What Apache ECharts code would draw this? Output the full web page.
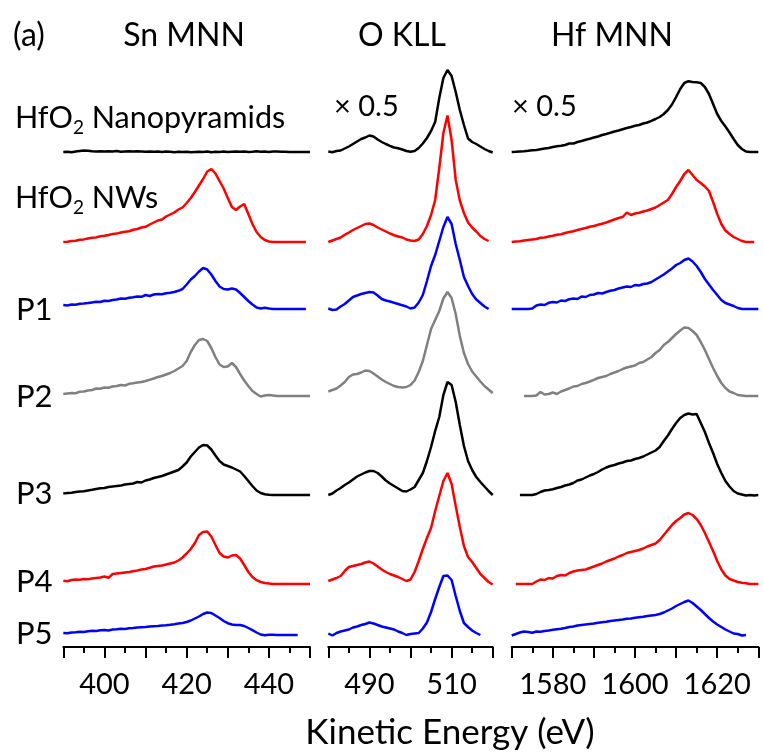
<!DOCTYPE html>
<html>
<head>
<meta charset="utf-8">
<title>Auger spectra</title>
<script src="https://cdn.jsdelivr.net/npm/echarts@6/dist/echarts.min.js"></script>
<style>
  html, body { margin: 0; padding: 0; background: #fff; }
  #chart { width: 764px; height: 753px; }
</style>
</head>
<body>
<div id="chart"></div>
<script>
// kinetic energy grids (eV)
const snEnergy = [390,391,392,393,394,395,396,397,398,399,400,401,402,403,404,405,406,407,408,409,
  410,411,412,413,414,415,416,417,418,419,420,421,422,423,424,425,426,427,428,429,
  430,431,432,433,434,435,436,437,438,439,440,441,442,443,444,445,446,447,448,449,450];
const oEnergy = [480,481,482,483,484,485,486,487,488,489,490,491,492,493,494,495,496,497,498,499,
  500,501,502,503,504,505,506,507,508,509,510,511,512,513,514,515,516,517,518,519,520];
const hfEnergy = [1570,1571,1572,1573,1574,1575,1576,1577,1578,1579,1580,1581,1582,1583,1584,1585,1586,1587,1588,1589,
  1590,1591,1592,1593,1594,1595,1596,1597,1598,1599,1600,1601,1602,1603,1604,1605,1606,1607,1608,1609,
  1610,1611,1612,1613,1614,1615,1616,1617,1618,1619,1620,1621,1622,1623,1624,1625,1626,1627,1628,1629,1630];

// Sn MNN (intensity above each trace's own baseline, a.u.)
const snNano = [0,0.02,-0.02,0.05,0.10,0.15,0.12,0.08,0.05,0.07, 0.04,0.08,0.05,0.09,0.03,0.06,0.08,0.04,0.07,0.05,
  0.02,0.06,0.03,0.05,0.01,0.04,0.02,-0.02,0.03,0.00, 0.02,-0.03,0.01,0.03,0.00,0.04,-0.02,0.02,0.01,0.05,
  0.00,0.03,0.06,0.02,0.04,0.00,0.03,0.07,0.02,0.05, 0.01,0.04,0.06,0.02,0.03,0,0,0,0,0, 0];
const snNws = [0.00,0.03,0.10,0.12,0.22,0.26,0.35,0.42,0.46,0.58, 0.62,0.70,0.80,0.84,0.95,1.02,1.08,1.22,1.30,1.45,
  1.52,1.75,1.95,2.15,2.25,2.55,2.75,2.95,3.25,3.45, 3.90,4.40,5.00,5.65,6.30,7.05,7.30,6.85,6.10,5.35,
  4.40,3.50,3.20,3.55,3.80,2.80,1.80,1.00,0.50,0.20, 0.05,0,0,0,0,0,0,0,0,0, null];
const snP1 = [0.40,0.35,0.45,0.42,0.52,0.55,0.60,0.66,0.72,0.70, 0.82,0.80,0.90,0.95,1.05,1.02,1.12,1.18,1.25,1.22,
  1.40,1.30,1.45,1.50,1.48,1.58,1.62,1.70,1.82,2.00, 2.45,2.95,3.30,3.75,4.10,3.95,3.45,2.80,2.25,2.00,
  1.95,2.05,1.95,1.60,1.20,0.80,0.45,0.15,0.05,0.13, 0.05,0,0,0,0,0,0,0,0,0, null];
const snP2 = [0.20,0.25,0.30,0.28,0.42,0.45,0.55,0.60,0.75,0.72, 0.85,0.82,0.95,1.00,1.10,1.05,1.22,1.28,1.35,1.40,
  1.50,1.62,1.75,1.90,2.00,2.15,2.30,2.50,2.75,3.00, 3.50,4.40,5.10,5.60,5.70,5.50,4.80,3.90,3.15,2.90,
  2.95,3.30,2.90,2.20,1.55,1.00,0.50,0.20,-0.05,0.05, 0.10,0.05,0,0,0,0,0,0,0,0, 0];
const snP3 = [0.15,0.20,0.22,0.30,0.35,0.38,0.45,0.52,0.60,0.68, 0.70,0.80,0.85,0.90,0.95,1.05,1.10,1.15,1.30,1.25,
  1.45,1.55,1.70,1.80,1.90,2.05,2.20,2.35,2.50,2.85, 3.25,3.85,4.30,4.75,5.00,4.95,4.55,3.95,3.40,3.05,
  2.90,2.75,2.55,2.35,1.90,1.40,0.90,0.45,0.20,0.08, 0.03,0,0,0,0,0,0,0,0,0, 0];
const snP4 = [0.33,0.28,0.40,0.45,0.42,0.50,0.48,0.55,0.60,0.65, 0.75,0.62,1.00,1.05,1.10,1.15,1.20,1.28,1.35,1.45,
  1.50,1.62,1.75,1.80,1.85,1.95,2.05,2.15,2.35,2.65, 3.05,3.50,4.10,4.90,5.20,5.25,4.75,3.90,3.10,2.75,
  2.65,2.85,2.90,2.55,1.90,1.20,0.70,0.38,0.20,0.10, 0.05,0,0,0,0,0,0,0,0,0, 0];
const snP5 = [0.20,0.18,0.25,0.28,0.32,0.30,0.38,0.42,0.40,0.47, 0.50,0.45,0.55,0.58,0.62,0.60,0.68,0.70,0.75,0.78,
  0.80,0.85,0.88,0.90,0.95,0.97,1.02,1.08,1.15,1.20, 1.30,1.45,1.65,1.85,2.10,2.25,2.20,1.95,1.70,1.40,
  1.18,1.05,1.00,1.00,0.90,0.70,0.48,0.25,0.05,-0.03, 0.03,0.02,0,0,0,0,0,0,null,null, null];

// O KLL
const oNano = [0.05,-0.02,0.10,0.15,0.35,0.55,0.80,1.05,1.30,1.45, 1.65,1.55,1.25,1.00,0.80,0.62,0.45,0.38,0.25,0.10,
  0.02,0.10,0.40,0.85,1.40,2.10,3.00,5.40,7.40,8.20, 7.60,6.00,4.20,2.70,1.35,1.00,0.80,0.55,0.30,0.10, -0.05];
const oNws = [0.00,0.15,0.30,0.45,0.72,0.95,1.20,1.40,1.60,1.80, 1.85,1.70,1.45,1.25,1.05,0.85,0.68,0.55,0.45,0.25,
  0.15,0.10,0.25,0.80,1.60,2.70,4.20,7.40,10.90,12.65, 10.20,6.20,4.15,2.90,1.95,1.45,1.05,0.60,0.30,0.10, null];
const oP1 = [0.05,-0.10,-0.05,0.25,0.50,0.85,1.20,1.35,1.50,1.60, 1.70,1.65,1.35,1.00,0.85,0.75,0.62,0.50,0.38,0.25,
  0.05,0.15,0.65,1.40,2.80,4.30,5.40,6.80,8.20,9.20, 8.50,6.50,4.90,3.20,2.30,1.50,0.95,0.60,0.25,0.00, null];
const oP2 = [0.45,0.60,0.75,1.05,1.40,1.90,2.15,2.20,2.35,2.55, 2.50,2.25,1.95,1.65,1.40,1.20,1.00,0.90,0.85,0.90,
  1.10,1.55,2.40,3.50,5.10,6.70,7.60,8.50,9.75,10.40, 9.80,8.20,6.00,4.30,3.20,2.45,1.95,1.45,1.00,0.65, 0.30];
const oP3 = [0.00,0.15,0.45,0.70,1.00,1.25,1.55,1.85,2.05,2.25, 2.40,2.40,2.20,1.85,1.45,1.15,0.90,0.65,0.40,0.35,
  0.55,0.80,1.50,2.20,3.40,4.80,6.40,7.80,10.00,11.30, 11.00,9.30,7.00,4.90,3.40,2.50,1.80,1.30,0.85,0.40, 0.00];
const oP4 = [0.30,0.45,0.60,0.80,1.30,1.70,1.80,1.90,2.00,2.15, 2.25,2.05,1.75,1.45,1.20,1.00,0.85,0.70,0.50,0.30,
  0.45,1.20,2.30,3.50,4.60,5.60,7.30,8.80,10.30,11.10, 10.00,7.80,5.70,3.80,2.70,2.20,1.60,1.00,0.60,0.20, -0.05];
const oP5 = [0.15,-0.05,0.20,0.35,0.45,0.55,0.75,0.85,1.00,1.10, 1.25,1.15,1.00,0.85,0.75,0.65,0.55,0.35,0.20,0.00,
  0.10,0.15,0.20,0.65,1.25,2.30,3.60,4.80,5.90,5.95, 5.50,3.90,2.40,1.20,0.80,0.45,0.20,0.00,null,null, null];

// Hf MNN
const hfNano = [0.00,0.02,0.05,0.08,0.12,0.18,0.20,0.28,0.35,0.40, 0.50,0.58,0.62,0.70,0.85,0.84,1.00,1.10,1.22,1.32,
  1.45,1.55,1.70,1.80,1.92,2.05,2.15,2.28,2.40,2.50, 2.62,2.70,2.85,2.95,3.12,3.30,3.50,3.80,4.20,4.75,
  5.50,6.30,6.90,7.08,7.00,6.98,6.90,6.50,5.80,4.80, 3.80,3.10,2.55,1.95,1.30,0.70,0.30,0.05,0.00,0.00, 0.00];
const hfNws = [0.00,0.05,0.08,0.15,0.20,0.25,0.30,0.42,0.45,0.55, 0.62,0.72,0.78,0.90,1.00,1.08,1.20,1.30,1.40,1.52,
  1.60,1.72,1.82,1.95,2.10,2.25,2.40,2.50,2.95,2.70, 2.85,2.92,3.05,3.15,3.30,3.45,3.70,3.95,4.20,4.80,
  5.50,6.10,6.80,7.20,6.70,6.20,5.90,5.55,5.10,4.00, 2.80,1.80,1.15,0.80,0.50,0.30,0.10,0.00,0.00,0.00, null];
const hfP1 = [0.00,0.00,0.00,0.00,0.00,0.05,0.35,0.45,0.40,0.62, 0.70,0.65,0.85,0.80,0.98,1.05,1.00,1.25,1.20,1.40,
  1.45,1.60,1.55,1.70,1.82,1.90,2.05,2.15,2.25,2.20, 2.40,2.35,2.50,2.55,2.70,2.95,3.20,3.45,3.75,4.05,
  4.40,4.60,4.90,5.05,4.75,4.30,3.70,3.00,2.45,1.90, 1.40,0.90,0.60,0.45,0.30,0.10,0.00,0.00,0.00,0.00, 0.00];
const hfP2 = [null,null,null,0.00,0.00,0.00,0.05,0.40,0.15,0.20, 0.35,0.20,0.45,0.60,0.75,0.95,1.00,1.20,1.30,1.45,
  1.62,1.80,1.90,2.00,2.20,2.35,2.50,2.70,2.85,2.95, 3.05,3.30,3.40,3.65,3.90,4.30,4.60,5.10,5.40,5.80,
  6.20,6.55,6.85,6.80,6.50,6.10,5.40,4.60,3.70,2.80, 2.00,1.30,0.80,0.45,0.30,0.10,0.05,0.00,0.00,0.00, 0.00];
const hfP3 = [null,null,0.00,0.00,0.00,0.00,0.10,0.30,0.45,0.50, 0.58,0.70,0.80,0.95,1.05,1.20,1.45,1.55,1.75,1.95,
  2.10,2.30,2.55,2.75,2.90,3.00,3.15,3.25,3.40,3.45, 3.60,3.70,3.85,4.05,4.25,4.45,4.80,5.40,5.95,6.60,
  7.20,7.70,8.00,8.15,8.05,8.10,7.20,6.30,5.20,4.20, 3.10,2.20,1.40,0.85,0.40,0.15,0.05,-0.05,0.00,-0.05, 0.00];
const hfP4 = [null,0.00,0.00,0.00,0.00,0.00,0.25,0.45,0.40,0.60, 0.55,0.80,0.90,0.85,1.10,1.25,1.35,1.40,1.45,1.60,
  1.75,1.90,2.05,2.25,2.40,2.55,2.75,2.90,3.10,3.20, 3.30,3.40,3.55,3.75,3.90,4.05,4.40,4.90,5.40,5.90,
  6.30,6.60,6.95,7.10,6.90,6.50,5.90,5.10,4.20,3.30, 2.30,1.45,0.85,0.50,0.35,0.20,0.12,0.08,0.00,0.00, 0.00];
const hfP5 = [-0.05,0.10,0.25,0.35,0.30,0.22,0.35,0.33,0.40,0.45, 0.52,0.58,0.62,0.70,0.80,0.85,0.95,1.00,1.05,1.10,
  1.15,1.22,1.28,1.33,1.40,1.45,1.50,1.55,1.62,1.65, 1.72,1.78,1.82,1.90,1.95,2.00,2.10,2.25,2.45,2.65,
  2.90,3.10,3.30,3.45,3.20,2.85,2.50,2.10,1.70,1.35, 1.05,0.80,0.55,0.35,0.15,0.10,-0.05,0.00,null,null, null];

// vertical offsets of the stacked traces (a.u.), top to bottom
const traceOffsets = [49.5, 40.5, 33.8, 25.1, 15.2, 6.3, 1.2];
const traceNames = ['HfO2 Nanopyramids', 'HfO2 NWs', 'P1', 'P2', 'P3', 'P4', 'P5'];
const traceColors = ['#000000', '#ff0000', '#0000ff', '#808080', '#000000', '#ff0000', '#0000ff'];

// tick labels shown on each energy axis
const snTickLabels = [400, 420, 440];
const oTickLabels = [490, 510];
const hfTickLabels = [1580, 1600, 1620];

const panels = [
  { energy: snEnergy, traces: [snNano, snNws, snP1, snP2, snP3, snP4, snP5], min: 390, max: 450, labels: snTickLabels, left: 63.3, width: 246.7 },
  { energy: oEnergy, traces: [oNano, oNws, oP1, oP2, oP3, oP4, oP5], min: 480, max: 520, labels: oTickLabels, left: 328.3, width: 164.4 },
  { energy: hfEnergy, traces: [hfNano, hfNws, hfP1, hfP2, hfP3, hfP4, hfP5], min: 1570, max: 1630, labels: hfTickLabels, left: 511.7, width: 246.6 }
];

const FONT = 'Lato';
const grid = [], xAxis = [], yAxis = [], series = [];

panels.forEach((p, i) => {
  grid.push({ left: p.left, width: p.width, top: 47, height: 600, outerBoundsMode: 'none' });
  xAxis.push({
    type: 'value', gridIndex: i, min: p.min, max: p.max, interval: 10,
    axisLine: { show: true, lineStyle: { color: '#000', width: 2 } },
    axisTick: { show: true, length: 11, lineStyle: { color: '#000', width: 2 } },
    minorTick: { show: true, splitNumber: 2, length: 6, lineStyle: { color: '#000', width: 2 } },
    splitLine: { show: false },
    axisLabel: {
      color: '#000', fontFamily: FONT, fontSize: 29, margin: 23,
      formatter: v => (p.labels.indexOf(v) >= 0 ? String(v) : '')
    }
  });
  yAxis.push({ type: 'value', gridIndex: i, min: 0, max: 60, show: false });
  p.traces.forEach((vals, k) => {
    series.push({
      name: traceNames[k] + ' ' + i,
      type: 'line', xAxisIndex: i, yAxisIndex: i,
      symbol: 'none', silent: true,
      lineStyle: { color: traceColors[k], width: 2.5 },
      data: p.energy.map((e, j) => [e, vals[j] == null ? '-' : vals[j] + traceOffsets[k]])
    });
  });
});

const subRich = {
  m: { fontFamily: FONT, fontSize: 30.5, lineHeight: 38, fill: '#000' },
  s: { fontFamily: FONT, fontSize: 19, lineHeight: 21, verticalAlign: 'bottom', fill: '#000' }
};
function txt(x, y, text, size, align, extra) {
  return {
    type: 'text', x: x, y: y, silent: true,
    style: Object.assign({ text: text, fontFamily: FONT, fontSize: size, fill: '#000',
      align: align || 'left', verticalAlign: 'middle' }, extra || {})
  };
}

const graphic = [
  txt(13, 36, '(a)', 32),
  txt(184, 36, 'Sn MNN', 32, 'center'),
  txt(402, 36, 'O KLL', 32, 'center'),
  txt(612, 36, 'Hf MNN', 32, 'center'),
  txt(15, 118, '{m|HfO}{s|2}{m| Nanopyramids}', 30, 'left', { rich: subRich }),
  txt(15, 198, '{m|HfO}{s|2}{m| NWs}', 30, 'left', { rich: subRich }),
  txt(16, 310, 'P1', 31),
  txt(16, 397, 'P2', 31),
  txt(16, 494, 'P3', 31),
  txt(16, 582, 'P4', 31),
  txt(16, 634, 'P5', 31),
  txt(334, 107, '× 0.5', 29),
  txt(512, 107, '× 0.5', 29),
  txt(450, 733, 'Kinetic Energy (eV)', 35, 'center')
];

const chart = echarts.init(document.getElementById('chart'), null, { renderer: 'canvas' });
chart.setOption({
  animation: false,
  backgroundColor: '#fff',
  grid: grid,
  xAxis: xAxis,
  yAxis: yAxis,
  series: series,
  graphic: graphic
});
</script>
</body>
</html>
